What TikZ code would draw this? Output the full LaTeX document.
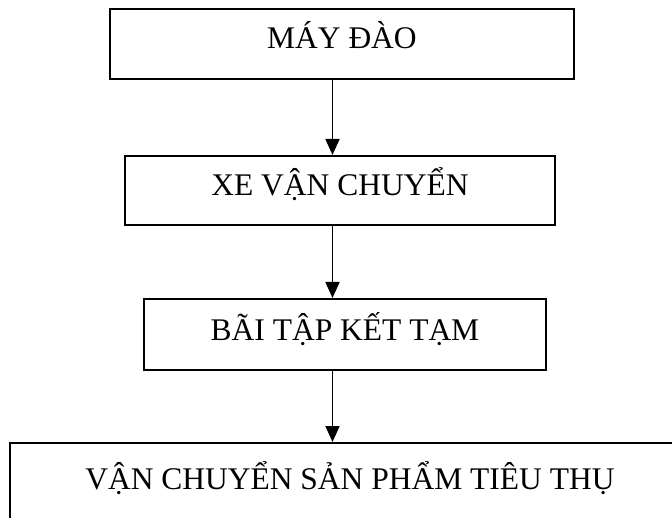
\documentclass[tikz,border=0pt]{standalone}
\usepackage{fontspec}
\setmainfont{Liberation Serif}
\usetikzlibrary{arrows.meta}
\begin{document}
\begin{tikzpicture}[x=1pt,y=-1pt,
  flowbox/.style={draw=black, line width=1.9pt, inner sep=0pt, anchor=north west,
    font=\fontsize{31.5}{36}\selectfont, align=center},
  flowarrow/.style={line width=1.7pt, -{Triangle[width=14pt,length=16pt]}}]
\useasboundingbox (0,0) rectangle (672,518);
\clip (0,0) rectangle (672,518);
\node[flowbox, minimum width=464pt, text height=40pt, text depth=30pt] (b1) at (109,8) {MÁY ĐÀO};
\node[flowbox, minimum width=430pt, text height=40pt, text depth=29pt] (b2) at (124,155) {XE VẬN CHUYỂN};
\node[flowbox, minimum width=402pt, text height=42pt, text depth=29pt] (b3) at (143,298) {BÃI TẬP KẾT TẠM};
\node[flowbox, minimum width=680pt, text height=47pt, text depth=60pt] (b4) at (9,442) {VẬN CHUYỂN SẢN PHẨM TIÊU THỤ};
\coordinate (ax) at (332.5,0);
\draw[flowarrow] (b1.south -| ax) -- (b2.north -| ax);
\draw[flowarrow] (b2.south -| ax) -- (b3.north -| ax);
\draw[flowarrow] (b3.south -| ax) -- (b4.north -| ax);
\end{tikzpicture}
\end{document}
